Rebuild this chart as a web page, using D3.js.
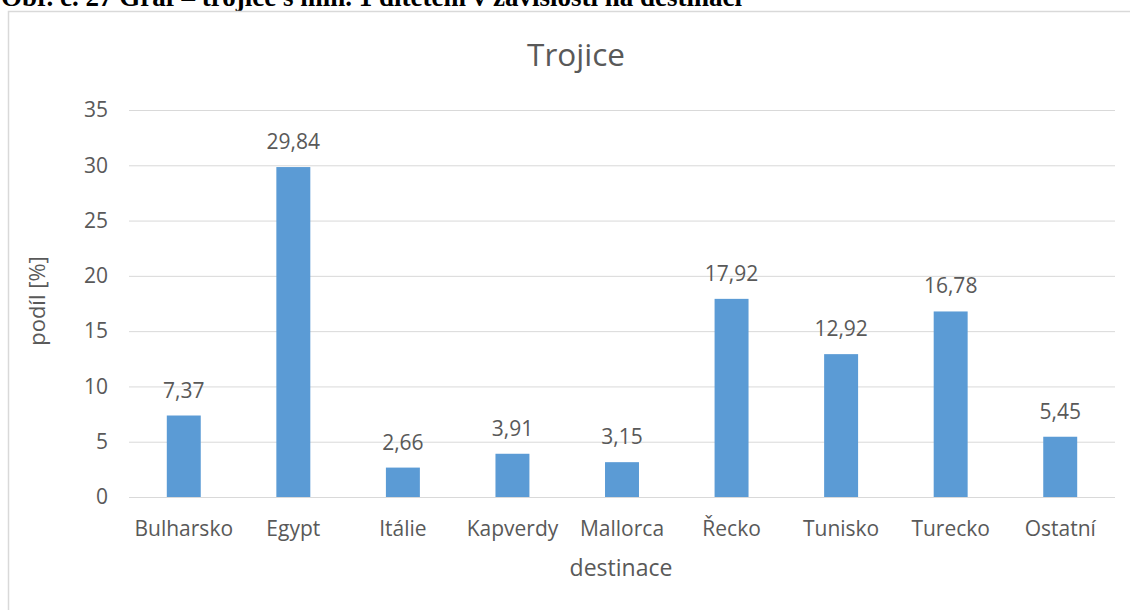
<!DOCTYPE html>
<html>
<head>
<meta charset="utf-8">
<script src="https://cdn.jsdelivr.net/npm/d3@7/dist/d3.min.js"></script>
<style>
  html, body { margin: 0; padding: 0; background: #fff; }
  svg { display: block; }
  text { font-family: "Open Sans", "Noto Sans", sans-serif; fill: #595959; }
</style>
</head>
<body>
<svg id="chart" width="1130" height="610"></svg>
<script>
// Share of trips (%) for threesomes with at least one child, by destination
const categories = ["Bulharsko", "Egypt", "Itálie", "Kapverdy", "Mallorca", "Řecko", "Tunisko", "Turecko", "Ostatní"];
const values = [7.37, 29.84, 2.66, 3.91, 3.15, 17.92, 12.92, 16.78, 5.45];
const yTicks = [0, 5, 10, 15, 20, 25, 30, 35];

const caption = "Obr. č. 27 Graf – trojice s min. 1 dítětem v závislosti na destinaci";
const title = "Trojice";
const xTitle = "destinace";
const yTitle = "podíl [%]";

const svg = d3.select("#chart");
const W = 1130, H = 610;
const plot = { left: 129, right: 1115, top: 110, bottom: 497 };

svg.append("rect").attr("width", W).attr("height", H).attr("fill", "#fff");

// document caption above the chart frame
svg.append("text")
  .attr("x", 1).attr("y", 6)
  .style("font-family", "'Liberation Serif', 'Times New Roman', serif")
  .style("font-weight", "bold")
  .style("font-size", "27px")
  .style("fill", "#000")
  .text(caption);

// chart frame
svg.append("path")
  .attr("d", `M8.5,${H} V11.5 H${W}`)
  .attr("fill", "none")
  .attr("stroke", "#d9d9d9")
  .attr("stroke-width", 1.5);

const x = d3.scaleBand()
  .domain(categories)
  .range([plot.left, plot.right])
  .paddingInner(0.69)
  .paddingOuter(0.345);

const y = d3.scaleLinear()
  .domain([0, 35])
  .range([plot.bottom, plot.top]);

// horizontal gridlines
const yAxis = d3.axisLeft(y)
  .tickValues(yTicks)
  .tickSize(-(plot.right - plot.left))
  .tickPadding(21)
  .tickFormat(d3.format("d"));

const gy = svg.append("g")
  .attr("transform", `translate(${plot.left},0)`)
  .call(yAxis);
gy.select(".domain").remove();
gy.selectAll(".tick line").attr("stroke", "#d9d9d9").attr("stroke-width", 1);
gy.selectAll(".tick text")
  .style("font-size", "21px")
  .style("fill", "#595959")
  .style("font-family", "'Open Sans', sans-serif");

// category axis
const xAxis = d3.axisBottom(x).tickSize(0).tickPadding(24);
const gx = svg.append("g")
  .attr("transform", `translate(0,${plot.bottom})`)
  .call(xAxis);
gx.select(".domain").remove();
gx.selectAll(".tick text")
  .style("font-size", "21px")
  .style("fill", "#595959")
  .style("font-family", "'Open Sans', sans-serif");

// bars
svg.append("g")
  .selectAll("rect")
  .data(values)
  .join("rect")
  .attr("x", (d, i) => x(categories[i]))
  .attr("width", x.bandwidth())
  .attr("y", d => y(d))
  .attr("height", d => y(0) - y(d))
  .attr("fill", "#5b9bd5");

// value labels
const fmt = v => d3.format(".2f")(v).replace(".", ",");
svg.append("g")
  .selectAll("text")
  .data(values)
  .join("text")
  .attr("x", (d, i) => x(categories[i]) + x.bandwidth() / 2)
  .attr("y", d => y(d) - 18)
  .attr("text-anchor", "middle")
  .style("font-size", "21px")
  .text(d => fmt(d));

// titles
svg.append("text")
  .attr("x", 576).attr("y", 66)
  .attr("text-anchor", "middle")
  .style("font-size", "31.5px")
  .text(title);

svg.append("text")
  .attr("x", 621).attr("y", 576)
  .attr("text-anchor", "middle")
  .style("font-size", "23px")
  .text(xTitle);

svg.append("text")
  .attr("transform", "translate(45,301) rotate(-90)")
  .attr("text-anchor", "middle")
  .style("font-size", "22px")
  .text(yTitle);
</script>
</body>
</html>
